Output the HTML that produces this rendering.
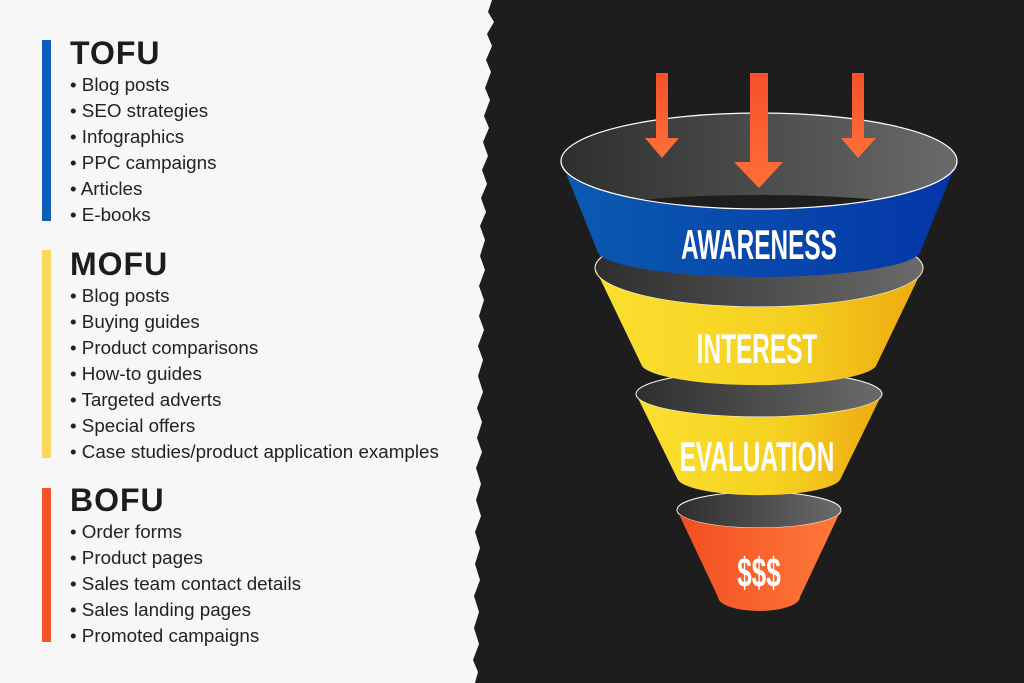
<!DOCTYPE html>
<html><head><meta charset="utf-8"><style>
html,body{margin:0;padding:0}
body{width:1024px;height:683px;background:#1d1d1d;position:relative;overflow:hidden;font-family:"Liberation Sans",sans-serif}
.bar{position:absolute;left:42px;width:9px}
.h{position:absolute;left:70px;font-size:32px;font-weight:bold;color:#1c1c1c;letter-spacing:1px}
.l{position:absolute;left:70px;font-size:18.8px;color:#222;line-height:26px;margin:0;padding:0;list-style:none}
.l li:before{content:"• ";}
svg{position:absolute;left:0;top:0}
.lab{font-family:"Liberation Sans Narrow","Liberation Sans",sans-serif;font-weight:bold;fill:#fff;text-anchor:middle}
</style></head><body>
<svg width="1024" height="683">
<defs>
<linearGradient id="gb" x1="0" x2="1"><stop offset="0" stop-color="#0a5bb0"/><stop offset="1" stop-color="#0535a8"/></linearGradient>
<linearGradient id="gy" x1="0" x2="1"><stop offset="0" stop-color="#fbe030"/><stop offset="0.6" stop-color="#f5d020"/><stop offset="1" stop-color="#eeaa10"/></linearGradient>
<linearGradient id="gr" x1="0" x2="1"><stop offset="0" stop-color="#f24e22"/><stop offset="1" stop-color="#ff7a3a"/></linearGradient>
<linearGradient id="gi" x1="0" x2="1"><stop offset="0" stop-color="#2e2e2e"/><stop offset="1" stop-color="#6a6a6a"/></linearGradient>
<linearGradient id="ga" x1="0" x2="0" y1="0" y2="1"><stop offset="0" stop-color="#f4502a"/><stop offset="1" stop-color="#ff7038"/></linearGradient>
</defs>
<path fill="#f7f7f7" d="M0 0 H492 L488 12 L494 22 L487 34 L492 46 L486 60 L491 72 L485 88 L490 100 L484 116 L489 128 L483 142 L488 156 L482 170 L487 184 L481 198 L486 212 L480 226 L485 240 L480 256 L485 270 L479 286 L484 300 L479 316 L484 330 L478 346 L483 360 L478 376 L483 392 L477 408 L482 422 L477 438 L482 452 L476 468 L481 484 L476 500 L481 516 L475 532 L480 548 L475 564 L480 580 L474 596 L479 612 L474 628 L479 644 L473 660 L478 672 L475 683 H0 Z"/>
<ellipse cx="759" cy="510" rx="82" ry="18" fill="url(#gi)" stroke="#fff" stroke-width="1"/>
<path d="M677 510 A82 18 0 0 0 841 510 L800 597 A41 14 0 0 1 718 597 Z" fill="url(#gr)"/>
<text class="lab" x="759" y="587" font-size="42" transform="translate(759 0) scale(0.62 1) translate(-759 0)">$$$</text>
<ellipse cx="759" cy="394" rx="123" ry="23" fill="url(#gi)" stroke="#fff" stroke-width="1"/>
<path d="M636 394 A123 23 0 0 0 882 394 L840 480 A82 18 0 0 1 678 480 Z" fill="url(#gy)"/>
<text class="lab" x="757" y="471" font-size="42" transform="translate(757 0) scale(0.58 1) translate(-757 0)">EVALUATION</text>
<ellipse cx="759" cy="268" rx="164" ry="39" fill="url(#gi)" stroke="#fff" stroke-width="1"/>
<path d="M595 268 A164 39 0 0 0 923 268 L876 366 A118 22 0 0 1 642 366 Z" fill="url(#gy)"/>
<text class="lab" x="757" y="363" font-size="42" transform="translate(757 0) scale(0.58 1) translate(-757 0)">INTEREST</text>
<ellipse cx="759" cy="161" rx="198" ry="48" fill="url(#gi)" stroke="#fff" stroke-width="1.2"/>
<ellipse cx="760" cy="208" rx="150" ry="13" fill="#1e1e1e"/>
<path d="M561 161 A198 48 0 0 0 957 161 L921 250 A162 27 0 0 1 597 250 Z" fill="url(#gb)"/>
<path d="M561 161 A198 48 0 0 0 957 161" fill="none" stroke="#fff" stroke-width="1.2"/>
<text class="lab" x="759" y="259" font-size="42" transform="translate(759 0) scale(0.58 1) translate(-759 0)">AWARENESS</text>
<path d="M656 73 H668 V138 H679 L662 158 L645 138 H656 Z" fill="url(#ga)"/>
<path d="M750 73 H768 V162 H783 L759 188 L734 162 H750 Z" fill="url(#ga)"/>
<path d="M852 73 H864 V138 H876 L858 158 L841 138 H852 Z" fill="url(#ga)"/>
</svg>
<div class="bar" style="top:40px;height:181px;background:#0a5db8"></div>
<div class="bar" style="top:250px;height:208px;background:#fcd85a"></div>
<div class="bar" style="top:488px;height:154px;background:#f4532c"></div>
<div class="h" style="top:35px">TOFU</div>
<ul class="l" style="top:72px"><li>Blog posts</li><li>SEO strategies</li><li>Infographics</li><li>PPC campaigns</li><li>Articles</li><li>E-books</li></ul>
<div class="h" style="top:246px">MOFU</div>
<ul class="l" style="top:283px"><li>Blog posts</li><li>Buying guides</li><li>Product comparisons</li><li>How-to guides</li><li>Targeted adverts</li><li>Special offers</li><li>Case studies/product application examples</li></ul>
<div class="h" style="top:482px">BOFU</div>
<ul class="l" style="top:519px"><li>Order forms</li><li>Product pages</li><li>Sales team contact details</li><li>Sales landing pages</li><li>Promoted campaigns</li></ul>
</body></html>
